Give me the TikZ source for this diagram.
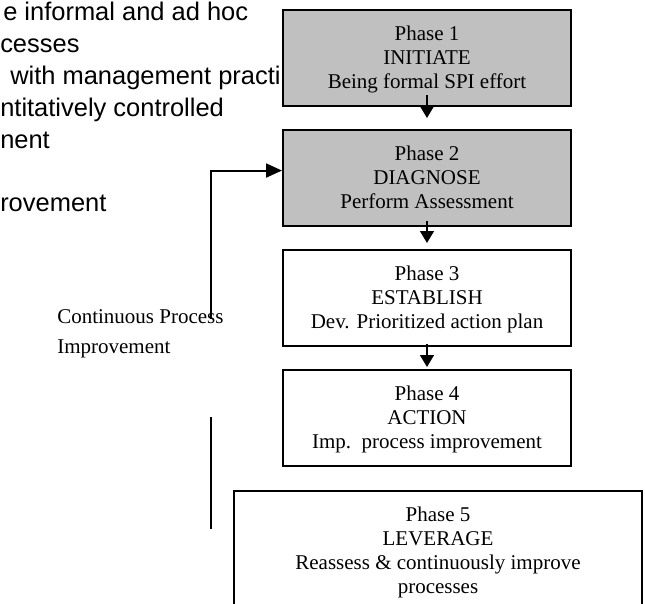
\documentclass[tikz,border=0pt]{standalone}
\usepackage{fontspec}
\setmainfont{Liberation Serif}
\newfontfamily\arialf{Liberation Sans}
\usetikzlibrary{arrows.meta}
\definecolor{phasegray}{RGB}{192,192,192}
\begin{document}
\begin{tikzpicture}[x=0.75pt,y=-0.75pt,
  phasebox/.style={draw, line width=1.5pt, align=center, inner xsep=0pt, inner ysep=0pt,
    minimum width=216pt, anchor=north, text height=58.7pt, text depth=13.3pt,
    font=\fontsize{15.75pt}{18.1pt}\selectfont},
  shaded/.style={fill=phasegray},
  plain/.style={fill=white},
  textline/.style={anchor=base west, inner sep=0pt, font=\arialf\fontsize{19.1pt}{23.8pt}\selectfont},
  looplabel/.style={anchor=base west, inner sep=0pt, align=left, font=\fontsize{15.75pt}{22.5pt}\selectfont},
  flow/.style={-{Triangle[length=9pt,width=10.5pt]}, line width=1.1pt},
  fbline/.style={line width=1.5pt},
  fbarrow/.style={fbline, -{Triangle[length=12pt,width=10.5pt]}}]
\useasboundingbox (0,0) rectangle (645,603);
\clip (0,0) rectangle (645,603);

% left background text (cut off)
\node[textline] (t1) at (3,21) {e informal and ad hoc};
\node[textline] (t2) at (0,52.7) {cesses};
\node[textline] (t3) at (10,84.4) {with management practi};
\node[textline] (t4) at (0,116) {ntitatively controlled};
\node[textline] (t5) at (0,148) {nent};
\node[textline] (t6) at (0,211) {rovement};

% loop label
\node[looplabel] (cpi) at (57,353) {Continuous Process\\Improvement};

% phase boxes
\node[phasebox, shaded] (p1) at (427,9) {Phase 1\\INITIATE\\Being formal SPI effort};
\node[phasebox, shaded] (p2) at (427,129) {Phase 2\\DIAGNOSE\\Perform Assessment};
\node[phasebox, plain] (p3) at (427,249) {Phase 3\\ESTABLISH\\Dev. Prioritized action plan};
\node[phasebox, plain] (p4) at (427,369) {Phase 4\\ACTION\\Imp.\ \ process improvement};
\node[phasebox, plain, minimum width=306pt, text height=76.8pt, text depth=15pt] (p5) at (438,490)
  {Phase 5\\LEVERAGE\\Reassess \& continuously improve\\processes};

% flow arrows
\draw[flow] ([yshift=9pt]p1.south) -- ([yshift=8.25pt]p2.north);
\draw[flow] ([yshift=4.5pt]p2.south) -- ([yshift=4.5pt]p3.north);
\draw[flow] ([yshift=2.25pt]p3.south) -- ([yshift=1.5pt]p4.north);

% feedback loop
\coordinate (fa) at (211,319);
\coordinate (fb1) at (211,417);
\coordinate (fb2) at (211,529);
\draw[fbarrow] (fa) |- ([yshift=5.6pt]p2.west);
\draw[fbline] (fb1) -- (fb2);
\end{tikzpicture}
\end{document}
